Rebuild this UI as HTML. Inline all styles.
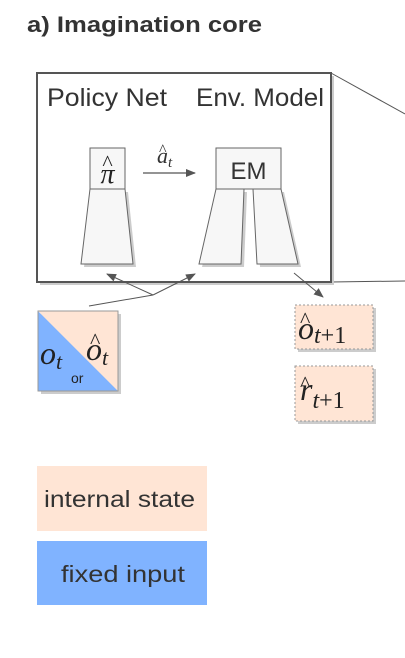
<!DOCTYPE html>
<html><head><meta charset="utf-8"><style>
html,body{margin:0;padding:0;background:#fff;}
svg{display:block;font-family:"Liberation Sans",sans-serif;}
</style></head><body>
<svg width="405" height="658" viewBox="0 0 405 658">
<defs>
<marker id="ah" markerWidth="10" markerHeight="10" refX="9" refY="5" orient="auto" markerUnits="userSpaceOnUse">
<path d="M0,1 L10,5 L0,9 Z" fill="#555"/></marker>
</defs>
<text x="27" y="32" font-size="22" font-weight="bold" fill="#333" textLength="235" lengthAdjust="spacingAndGlyphs">a) Imagination core</text>

<line x1="331" y1="73" x2="405" y2="114" stroke="#555" stroke-width="1"/>
<line x1="331" y1="282" x2="405" y2="281" stroke="#555" stroke-width="1"/>

<rect x="40" y="76" width="294" height="209" fill="#ccc"/>
<rect x="37" y="73" width="294" height="209" fill="#fff" stroke="#555" stroke-width="2"/>
<text x="47" y="106" font-size="25" fill="#333" textLength="120" lengthAdjust="spacingAndGlyphs">Policy Net</text>
<text x="196" y="106" font-size="25" fill="#333" textLength="128" lengthAdjust="spacingAndGlyphs">Env. Model</text>

<g stroke="#666" stroke-width="1" fill="#f7f7f7">
<polygon points="93,192 128,192 136,267 84,267" fill="#ccc" stroke="none"/>
<polygon points="90,189 125,189 133,264 81,264"/>
<rect x="90" y="148" width="35" height="41"/>
</g>
<text x="107.5" y="183" font-size="28" font-family="Liberation Serif,serif" font-style="italic" fill="#222" text-anchor="middle">π</text>
<text x="107.5" y="170" font-size="22" font-family="Liberation Serif,serif" fill="#222" text-anchor="middle">^</text>

<line x1="143" y1="173" x2="195" y2="173" stroke="#555" stroke-width="1.2" marker-end="url(#ah)"/>
<text x="157" y="163" font-size="22" font-family="Liberation Serif,serif" font-style="italic" fill="#333">a<tspan font-size="15" dy="4">t</tspan></text>
<text x="159" y="155" font-size="16" font-family="Liberation Serif,serif" fill="#333">^</text>

<g stroke="#666" stroke-width="1" fill="#f7f7f7">
<polygon points="219,192 247,192 244,267 202,267" fill="#ccc" stroke="none"/>
<polygon points="256,192 284,192 301,267 260,267" fill="#ccc" stroke="none"/>
<polygon points="216,189 244,189 241,264 199,264"/>
<polygon points="253,189 281,189 298,264 257,264"/>
<rect x="216" y="148" width="65" height="41"/>
</g>
<text x="248.5" y="179" font-size="24" fill="#333" text-anchor="middle">EM</text>

<g stroke="#555" stroke-width="1" fill="none">
<polyline points="89,306 153,295"/>
<line x1="153" y1="295" x2="107" y2="274" marker-end="url(#ah)"/>
<line x1="153" y1="295" x2="195" y2="274" marker-end="url(#ah)"/>
<line x1="294" y1="273" x2="323" y2="297" marker-end="url(#ah)"/>
</g>

<g>
<rect x="41" y="314" width="80" height="80" fill="#ccc"/>
<polygon points="38,311 118,391 38,391" fill="#80b3ff"/>
<polygon points="38,311 118,311 118,391" fill="#ffe5d5"/>
<rect x="38" y="311" width="80" height="80" fill="none" stroke="#999" stroke-width="1"/>
</g>
<text x="40" y="364" font-size="32" font-family="Liberation Serif,serif" font-style="italic" fill="#222">o<tspan font-size="22" dy="5">t</tspan></text>
<text x="71" y="383" font-size="14" fill="#222">or</text>
<text x="86" y="360" font-size="32" font-family="Liberation Serif,serif" font-style="italic" fill="#222">o<tspan font-size="22" dy="5">t</tspan></text>
<text x="90" y="348" font-size="22" font-family="Liberation Serif,serif" fill="#222">^</text>

<g>
<rect x="298" y="308" width="78" height="44" fill="#ccc"/>
<rect x="295" y="305" width="78" height="44" fill="#ffe5d5" stroke="#999" stroke-dasharray="2,2"/>
</g>
<text x="298" y="339" font-size="32" font-family="Liberation Serif,serif" font-style="italic" fill="#222">o<tspan font-size="24" dy="4" font-style="normal"><tspan font-style="italic">t</tspan>+1</tspan></text>
<text x="300" y="327" font-size="22" font-family="Liberation Serif,serif" fill="#222">^</text>
<g>
<rect x="298" y="369" width="78" height="55" fill="#ccc"/>
<rect x="295" y="366" width="78" height="55" fill="#ffe5d5" stroke="#999" stroke-dasharray="2,2"/>
</g>
<text x="300" y="400" font-size="32" font-family="Liberation Serif,serif" font-style="italic" fill="#222">r<tspan font-size="24" dy="8" font-style="normal"><tspan font-style="italic">t</tspan>+1</tspan></text>
<text x="300" y="391" font-size="22" font-family="Liberation Serif,serif" fill="#222">^</text>

<rect x="37" y="466" width="170" height="65" fill="#ffe5d5"/>
<text x="44" y="507" font-size="23" fill="#333" textLength="151" lengthAdjust="spacingAndGlyphs">internal state</text>
<rect x="37" y="541" width="170" height="64" fill="#80b3ff"/>
<text x="61" y="582" font-size="23" fill="#333" textLength="124" lengthAdjust="spacingAndGlyphs">fixed input</text>
</svg>
</body></html>
